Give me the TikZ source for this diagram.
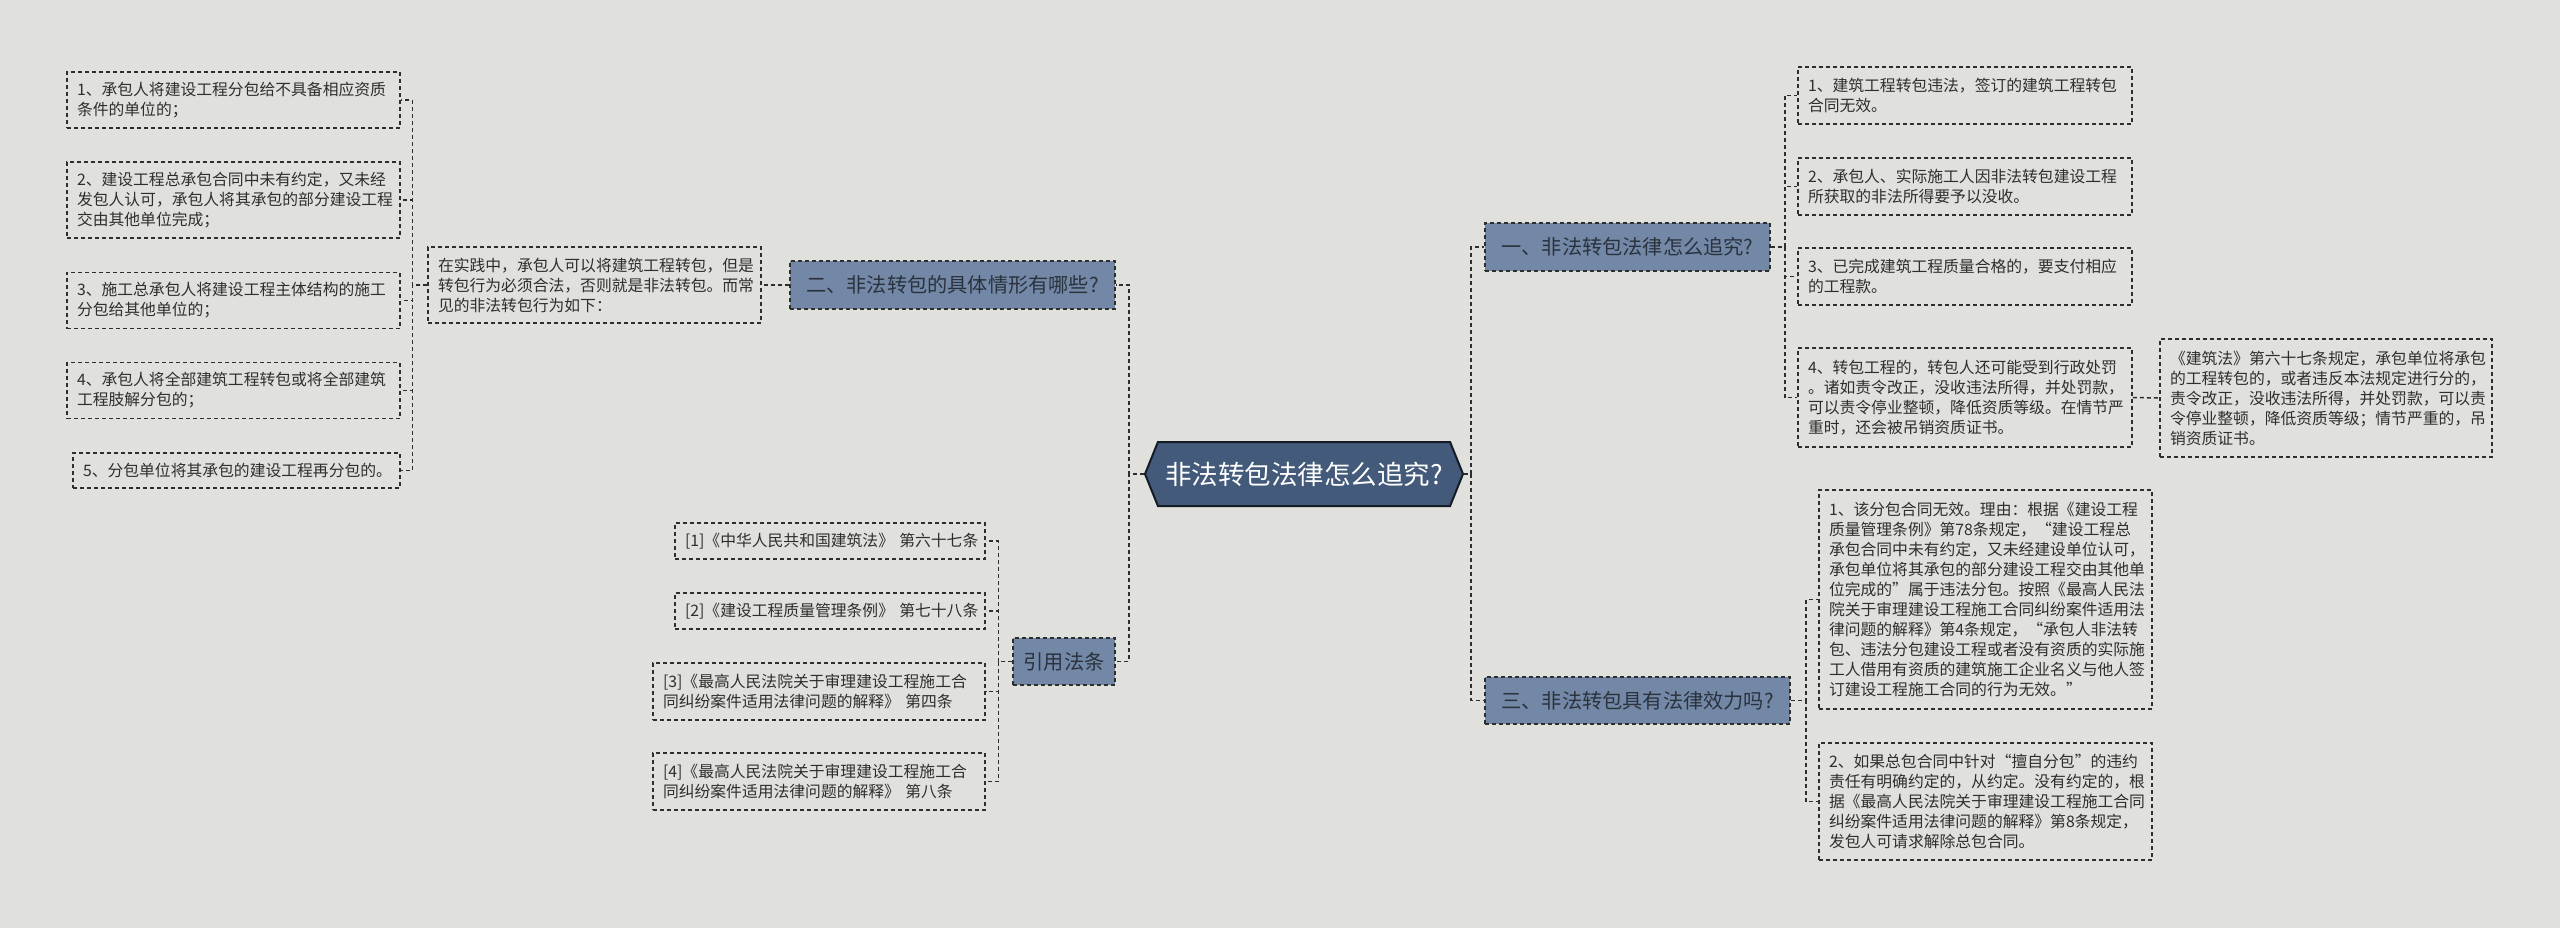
\documentclass[tikz,border=0pt]{standalone}
\usepackage{fontspec}
\newfontfamily\cjk{Noto Sans CJK SC}
\usetikzlibrary{shapes.symbols}
\definecolor{bg}{HTML}{E0E1DC}
\definecolor{lc}{HTML}{2E2E2E}
\definecolor{brfill}{HTML}{7388A6}
\definecolor{cfill}{HTML}{435A7A}
\definecolor{brtext}{HTML}{2A323D}
\definecolor{cline}{HTML}{151C28}
\tikzset{
 dsh/.style={dash pattern=on 4pt off 3pt, line width=1.5pt, draw=lc},
 leaf/.style={dsh, align=left, inner xsep=10pt, inner ysep=0pt, text=lc, font=\cjk\fontsize{15.8}{20}\selectfont},
 br/.style={dsh, fill=brfill, text=brtext, inner sep=0pt, font=\cjk\fontsize{20.2}{24}\selectfont},
 conn/.style={dsh},
 ctr/.style={signal, signal to=west and east, signal pointer angle=136, draw=cline, line width=2pt, fill=cfill, text=white, inner sep=0pt, font=\cjk\fontsize{26.5}{30}\selectfont}
}
\begin{document}
\begin{tikzpicture}[x=1pt,y=-1pt]
\fill[bg] (0,0) rectangle (2560,928);
\useasboundingbox (0,0) rectangle (2560,928);
% centre
\node[ctr, minimum width=318pt, minimum height=64pt] (c) at (1304,474) {非法转包法律怎么追究?};
% branches
\node[br, minimum width=325pt, minimum height=48pt] (b2) at (952.5,285) {二、非法转包的具体情形有哪些?};
\node[br, minimum width=102pt, minimum height=47pt] (bref) at (1064,661.5) {引用法条};
\node[br, minimum width=285pt, minimum height=48pt] (b1) at (1627.5,247) {一、非法转包法律怎么追究?};
\node[br, minimum width=305pt, minimum height=47pt] (b3) at (1637.5,700.5) {三、非法转包具有法律效力吗?};
% left leaves
\node[leaf, text width=313pt, minimum height=76pt] (p) at (594.5,285) {在实践中，承包人可以将建筑工程转包，但是\\转包行为必须合法，否则就是非法转包。而常\\见的非法转包行为如下：};
\node[leaf, text width=313pt, minimum height=56pt] (l1) at (233.5,100) {1、承包人将建设工程分包给不具备相应资质\\条件的单位的；};
\node[leaf, text width=313pt, minimum height=76pt] (l2) at (233.5,200) {2、建设工程总承包合同中未有约定，又未经\\发包人认可，承包人将其承包的部分建设工程\\交由其他单位完成；};
\node[leaf, text width=313pt, minimum height=56pt] (l3) at (233.5,300.5) {3、施工总承包人将建设工程主体结构的施工\\分包给其他单位的；};
\node[leaf, text width=313pt, minimum height=56pt] (l4) at (233.5,390.5) {4、承包人将全部建筑工程转包或将全部建筑\\工程肢解分包的；};
\node[leaf, text width=307pt, minimum height=35pt] (l5) at (236.5,470.5) {5、分包单位将其承包的建设工程再分包的。};
% references
\node[leaf, text width=290pt, minimum height=36pt] (f1) at (830,541) {\mbox{[1]《中华人民共和国建筑法》 第六十七条}};
\node[leaf, text width=290pt, minimum height=36pt] (f2) at (830,611) {\mbox{[2]《建设工程质量管理条例》 第七十八条}};
\node[leaf, text width=312pt, minimum height=57pt] (f3) at (819,691.5) {[3]《最高人民法院关于审理建设工程施工合\\同纠纷案件适用法律问题的解释》 第四条};
\node[leaf, text width=312pt, minimum height=57pt] (f4) at (819,781.5) {[4]《最高人民法院关于审理建设工程施工合\\同纠纷案件适用法律问题的解释》 第八条};
% right leaves
\node[leaf, text width=314pt, minimum height=57pt] (r1) at (1965,95.5) {1、建筑工程转包违法，签订的建筑工程转包\\合同无效。};
\node[leaf, text width=314pt, minimum height=57pt] (r2) at (1965,186.5) {2、承包人、实际施工人因非法转包建设工程\\所获取的非法所得要予以没收。};
\node[leaf, text width=314pt, minimum height=57pt] (r3) at (1965,276.5) {3、已完成建筑工程质量合格的，要支付相应\\的工程款。};
\node[leaf, text width=314pt, minimum height=99pt] (r4) at (1965,397.5) {4、转包工程的，转包人还可能受到行政处罚\\。诸如责令改正，没收违法所得，并处罚款，\\可以责令停业整顿，降低资质等级。在情节严\\重时，还会被吊销资质证书。};
\node[leaf, text width=312pt, minimum height=118pt] (law) at (2326,398) {《建筑法》第六十七条规定，承包单位将承包\\的工程转包的，或者违反本法规定进行分的，\\责令改正，没收违法所得，并处罚款，可以责\\令停业整顿，降低资质等级；情节严重的，吊\\销资质证书。};
\node[leaf, text width=313pt, minimum height=219pt] (s1) at (1985.5,599.5) {1、该分包合同无效。理由：根据《建设工程\\质量管理条例》第78条规定，“建设工程总\\承包合同中未有约定，又未经建设单位认可，\\承包单位将其承包的部分建设工程交由其他单\\位完成的”属于违法分包。按照《最高人民法\\院关于审理建设工程施工合同纠纷案件适用法\\律问题的解释》第4条规定，“承包人非法转\\包、违法分包建设工程或者没有资质的实际施\\工人借用有资质的建筑施工企业名义与他人签\\订建设工程施工合同的行为无效。”};
\node[leaf, text width=313pt, minimum height=117pt] (s2) at (1985.5,801.5) {2、如果总包合同中针对“擅自分包”的违约\\责任有明确约定的，从约定。没有约定的，根\\据《最高人民法院关于审理建设工程施工合同\\纠纷案件适用法律问题的解释》第8条规定，\\发包人可请求解除总包合同。};
% connectors
\draw[conn] (c.west) -- ++(-15,0) |- (b2.east);
\draw[conn] (c.west) -- ++(-15,0) |- (bref.east);
\draw[conn] (c.east) -- ++(7,0) |- (b1.west);
\draw[conn] (c.east) -- ++(7,0) |- (b3.west);
\draw[conn] (b2.west) -- (p.east);
\foreach \n in {l1,l2,l3,l4,l5} \draw[conn] (p.west) -- ++(-15,0) |- (\n.east);
\foreach \n in {f1,f2,f3,f4} \draw[conn] (bref.west) -- ++(-14,0) |- (\n.east);
\foreach \n in {r1,r2,r3,r4} \draw[conn] (b1.east) -- ++(14,0) |- (\n.west);
\draw[conn] (r4.east) -- (law.west);
\foreach \n in {s1,s2} \draw[conn] (b3.east) -- ++(15,0) |- (\n.west);
\end{tikzpicture}
\end{document}
